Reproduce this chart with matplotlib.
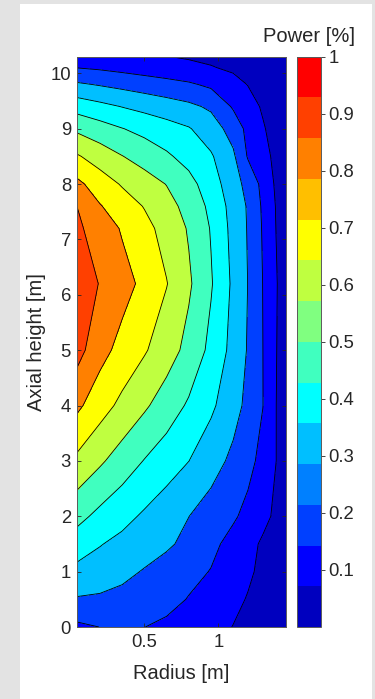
import numpy as np
import matplotlib
matplotlib.use("Agg")
import matplotlib.pyplot as plt
from matplotlib.colors import ListedColormap, Normalize
from matplotlib.patches import Rectangle
import matplotlib.colorbar as mcolorbar

plt.rcParams['font.family'] = ['Liberation Sans', 'DejaVu Sans']

# ---------------- data ----------------
r_nodes = [0.047, 0.2, 0.35, 0.5, 0.65, 0.8, 0.95, 1.1, 1.2, 1.3, 1.4, 1.455]
z_nodes = [0.0, 0.5, 1.0, 1.5, 2.0, 3.0, 4.0, 5.0, 6.2, 7.2, 7.6, 8.0,
           8.5, 9.0, 9.4, 9.8, 10.1, 10.3]

p_z00 = [0.180, 0.201, 0.212, 0.201, 0.180, 0.160, 0.130, 0.098, 0.075, 0.050, 0.030, 0.020]
p_z05 = [0.292, 0.285, 0.272, 0.255, 0.232, 0.195, 0.158, 0.120, 0.095, 0.070, 0.045, 0.030]
p_z10 = [0.372, 0.355, 0.325, 0.293, 0.261, 0.229, 0.196, 0.146, 0.113, 0.082, 0.055, 0.040]
p_z15 = [0.452, 0.405, 0.374, 0.345, 0.315, 0.275, 0.224, 0.168, 0.127, 0.088, 0.060, 0.045]
p_z20 = [0.529, 0.474, 0.430, 0.386, 0.343, 0.301, 0.257, 0.213, 0.173, 0.124, 0.080, 0.060]
p_z30 = [0.678, 0.615, 0.554, 0.496, 0.448, 0.401, 0.341, 0.278, 0.230, 0.170, 0.093, 0.060]
p_z40 = [0.820, 0.741, 0.676, 0.615, 0.552, 0.487, 0.418, 0.337, 0.275, 0.202, 0.090, 0.050]
p_z50 = [0.935, 0.835, 0.767, 0.710, 0.645, 0.570, 0.475, 0.369, 0.292, 0.201, 0.094, 0.045]
p_z62 = [0.950, 0.896, 0.838, 0.775, 0.704, 0.615, 0.509, 0.382, 0.298, 0.199, 0.098, 0.045]
p_z72 = [0.915, 0.860, 0.790, 0.730, 0.665, 0.591, 0.494, 0.370, 0.293, 0.192, 0.088, 0.040]
p_z76 = [0.899, 0.806, 0.750, 0.695, 0.636, 0.567, 0.477, 0.363, 0.290, 0.186, 0.085, 0.040]
p_z80 = [0.823, 0.751, 0.691, 0.645, 0.597, 0.533, 0.448, 0.343, 0.268, 0.174, 0.075, 0.035]
p_z85 = [0.710, 0.653, 0.603, 0.559, 0.515, 0.465, 0.411, 0.317, 0.191, 0.134, 0.070, 0.035]
p_z90 = [0.580, 0.541, 0.503, 0.471, 0.439, 0.407, 0.349, 0.260, 0.173, 0.109, 0.060, 0.030]
p_z94 = [0.459, 0.427, 0.397, 0.371, 0.346, 0.321, 0.284, 0.189, 0.136, 0.090, 0.050, 0.030]
p_z98 = [0.313, 0.292, 0.272, 0.252, 0.233, 0.213, 0.181, 0.131, 0.097, 0.070, 0.045, 0.030]
p_z101 = [0.199, 0.187, 0.171, 0.155, 0.139, 0.122, 0.106, 0.085, 0.070, 0.055, 0.040, 0.030]
p_z103 = [0.140, 0.133, 0.124, 0.114, 0.102, 0.092, 0.080, 0.068, 0.058, 0.048, 0.037, 0.030]

contour_levels = [0.0, 0.1, 0.2, 0.3, 0.4, 0.5, 0.6, 0.7, 0.8, 0.9, 1.0]

# 14-colour jet map used by the figure (bottom to top)
jet14 = [(0, 0, 0.75), (0, 0, 1), (0, 0.25, 1), (0, 0.5, 1), (0, 0.75, 1),
         (0, 1, 1), (0.25, 1, 0.75), (0.5, 1, 0.5), (0.75, 1, 0.25), (1, 1, 0),
         (1, 0.75, 0), (1, 0.5, 0), (1, 0.25, 0), (1, 0, 0)]

cbar_ticks = [0.1, 0.2, 0.3, 0.4, 0.5, 0.6, 0.7, 0.8, 0.9, 1.0]
cbar_ticklabels = ['0.1', '0.2', '0.3', '0.4', '0.5', '0.6', '0.7', '0.8', '0.9', '1']
x_ticks = [0.5, 1.0]
x_ticklabels = ['0.5', '1']
y_ticks = [0, 1, 2, 3, 4, 5, 6, 7, 8, 9, 10]
y_ticklabels = [str(v) for v in y_ticks]

# ---------------- figure ----------------
W, H = 375, 699
fig = plt.figure(figsize=(W / 100, H / 100), dpi=100)
fig.patch.set_facecolor('#e3e3e3')
fig.patches.append(Rectangle((20 / W, 0), 352 / W, 695 / H, transform=fig.transFigure,
                             facecolor='white', edgecolor='none', zorder=-10))

txt = '#262626'
ax = fig.add_axes([77.3 / W, 1 - 627 / H, (285.7 - 77.3) / W, (627 - 56.7) / H])

P = np.array([p_z00, p_z05, p_z10, p_z15, p_z20, p_z30, p_z40, p_z50, p_z62, p_z72,
              p_z76, p_z80, p_z85, p_z90, p_z94, p_z98, p_z101, p_z103])
R, Z = np.meshgrid(r_nodes, z_nodes)

cmap = ListedColormap(jet14)
n = len(jet14)
fill_idx = [int(np.clip(np.ceil(round(lv * n, 6)) - 1, 0, n - 1)) for lv in contour_levels[:-1]]
fill_colors = [jet14[i] for i in fill_idx]

ax.contourf(R, Z, P, levels=contour_levels, colors=fill_colors)
ax.contour(R, Z, P, levels=contour_levels[1:-1], colors='k', linewidths=0.6)

ax.set_xlim(r_nodes[0], r_nodes[-1])
ax.set_ylim(0, 10.3)
ax.set_xticks(x_ticks)
ax.set_xticklabels(x_ticklabels)
ax.set_yticks(y_ticks)
ax.set_yticklabels(y_ticklabels)
ax.tick_params(direction='in', length=3, width=0.6, color=txt, labelcolor=txt,
               labelsize=13.3, top=True, right=True)
ax.tick_params(axis='y', pad=4.5)
ax.tick_params(axis='x', pad=5)
for s in ax.spines.values():
    s.set_color('#5a5a5a')
    s.set_linewidth(0.7)

ax.set_xlabel('Radius [m]', fontsize=14.5, color=txt)
ax.set_ylabel('Axial height [m]', fontsize=14.5, color=txt)
ax.xaxis.set_label_coords(0.5, (627 - 673) / 570)
ax.xaxis.label.set_va('center')
ax.yaxis.set_label_coords((36 - 77.3) / 208.4, 0.5)
ax.yaxis.label.set_va('center')

# colorbar
cax = fig.add_axes([297 / W, 1 - 627 / H, 24 / W, (627 - 56.7) / H])
cb = mcolorbar.ColorbarBase(cax, cmap=cmap, norm=Normalize(0, 1), orientation='vertical')
cb.set_ticks(cbar_ticks)
cb.set_ticklabels(cbar_ticklabels)
cax.tick_params(direction='out', length=3, width=0.6, color=txt, labelcolor=txt,
                labelsize=13.3, pad=2.5)
cb.outline.set_edgecolor('#5a5a5a')
cb.outline.set_linewidth(0.7)
cax.text(0.52, (627 - 37) / 570, 'Power [%]', transform=cax.transAxes, ha='center',
         va='center', fontsize=14.5, color=txt)

fig.savefig('out.png', dpi=100, facecolor=fig.get_facecolor())
